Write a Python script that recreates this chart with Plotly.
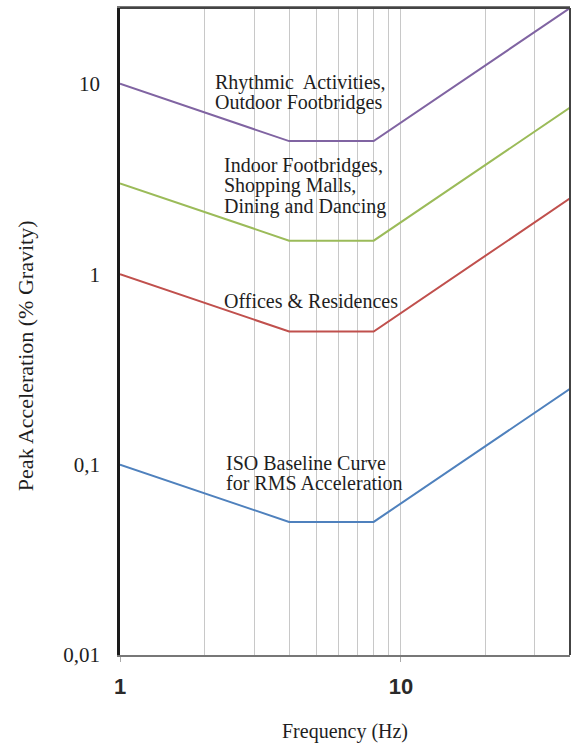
import math
import plotly.graph_objects as go

# Frequency break points (Hz)
freq = [1, 4, 8, 40]

# Peak acceleration limits (% gravity) at each break point
iso_baseline = [0.1, 0.05, 0.05, 0.25]
offices = [1.0, 0.5, 0.5, 2.5]
indoor = [3.0, 1.5, 1.5, 7.5]
rhythmic = [10.0, 5.0, 5.0, 25.0]

series_names = ["ISO Baseline Curve", "Offices & Residences", "Indoor Footbridges", "Rhythmic Activities"]
series_values = [iso_baseline, offices, indoor, rhythmic]
series_colors = ["#4F81BD", "#C0504D", "#9BBB59", "#8064A2"]

# Curve labels: text lines and anchor of the first line (Hz, % gravity)
label_lines = [
    ["Rhythmic  Activities,", "Outdoor Footbridges"],
    ["Indoor Footbridges,", "Shopping Malls,", "Dining and Dancing"],
    ["Offices & Residences"],
    ["ISO Baseline Curve", "for RMS Acceleration"],
]
label_freq = [2.14, 2.31, 2.31, 2.35]
label_accel = [10.2, 3.74, 0.72, 0.102]
line_pitch = 20.5  # px between label lines

y_ticks = [0.01, 0.1, 1, 10]
y_tick_text = ["0,01", "0,1", "1", "10"]
x_ticks = [1, 10]
x_tick_text = ["1", "10"]
x_grid_minor = [2, 3, 4, 5, 6, 7, 8, 9, 20, 30]

serif = "Liberation Serif, Times New Roman, serif"
sans = "Liberation Sans, Arial, sans-serif"
text_col = "#1e1e1e"

fig = go.Figure()
for name, vals, col in zip(series_names, series_values, series_colors):
    fig.add_trace(go.Scatter(x=freq, y=vals, mode="lines", name=name,
                             line=dict(color=col, width=2), showlegend=False))

for lines, fx, fy in zip(label_lines, label_freq, label_accel):
    for i, line in enumerate(lines):
        fig.add_annotation(x=math.log10(fx), y=math.log10(fy), text=line, showarrow=False,
                           xanchor="left", yanchor="middle", align="left",
                           yshift=-line_pitch * i,
                           font=dict(family=serif, size=20, color=text_col))

# Vertical axis title, placed a little below the middle of the plot
fig.add_annotation(xref="paper", yref="paper", x=-0.211, y=0.462,
                   text="Peak Acceleration (% Gravity)", textangle=-90, showarrow=False,
                   xanchor="center", yanchor="middle",
                   font=dict(family=serif, size=22, color=text_col))

fig.update_xaxes(type="log", range=[0, math.log10(40)],
                 tickvals=x_ticks, ticktext=x_tick_text,
                 tickfont=dict(family=sans, size=22, color="#2a2a2a", weight="bold"),
                 ticks="outside", ticklen=5, tickcolor="#aaaaaa", ticklabelstandoff=6,
                 showgrid=True, gridcolor="#C8C8C8", gridwidth=1,
                 minor=dict(tickvals=x_grid_minor, showgrid=True,
                            gridcolor="#C8C8C8", gridwidth=1, ticks=""),
                 showline=True, linecolor="#777777", linewidth=1.5, mirror=True,
                 title=dict(text="Frequency (Hz)", font=dict(family=serif, size=20, color=text_col),
                            standoff=26),
                 zeroline=False)
fig.update_yaxes(type="log", range=[-2, math.log10(25)],
                 tickvals=y_ticks, ticktext=y_tick_text,
                 tickfont=dict(family=serif, size=21, color=text_col),
                 ticks="", ticklabelstandoff=13, showgrid=False,
                 showline=True, linecolor="#1a1a1a", linewidth=2.5, mirror=False,
                 zeroline=False)

# Right and top frame lines
fig.add_shape(type="line", xref="paper", yref="paper", x0=1, x1=1, y0=0, y1=1,
              line=dict(color="#444444", width=2))
fig.add_shape(type="line", xref="paper", yref="paper", x0=0, x1=1, y0=1, y1=1,
              line=dict(color="#444444", width=2))

fig.update_layout(width=572, height=751, margin=dict(l=120, r=2, t=8, b=96),
                  paper_bgcolor="white", plot_bgcolor="white")

fig.write_html("out.html")
